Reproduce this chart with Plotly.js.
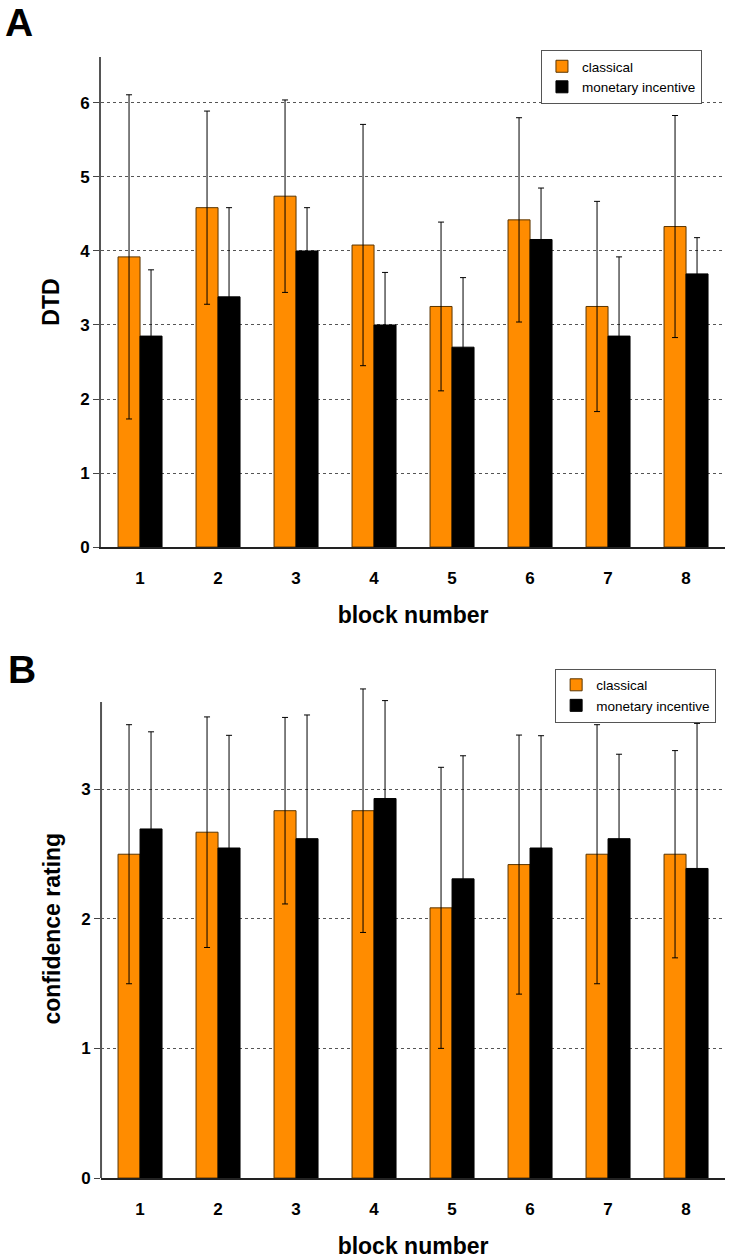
<!DOCTYPE html>
<html>
<head>
<meta charset="utf-8">
<script src="https://cdn.plot.ly/plotly-3.0.1.min.js"></script>
<style>
  html, body { margin: 0; padding: 0; background: #fff; }
  #chart { width: 730px; height: 1259px; }
</style>
</head>
<body>
<div id="chart"></div>
<script>
// ---- data ----
const blocks = ['1', '2', '3', '4', '5', '6', '7', '8'];

// Panel A: DTD
const dtdClassical      = [3.92, 4.585, 4.74, 4.08, 3.25, 4.42, 3.25, 4.33];
const dtdClassicalErr   = [2.19, 1.305, 1.30, 1.63, 1.14, 1.38, 1.42, 1.50];
const dtdMonetary       = [2.85, 3.38, 4.00, 3.00, 2.70, 4.155, 2.85, 3.69];
const dtdMonetaryErr    = [0.895, 1.205, 0.585, 0.71, 0.94, 0.695, 1.07, 0.49];

// Panel B: confidence rating
const confClassical     = [2.50, 2.67, 2.836, 2.836, 2.086, 2.42, 2.50, 2.50];
const confClassicalErr  = [1.00, 0.89, 0.72, 0.94, 1.085, 1.00, 1.00, 0.80];
const confMonetary      = [2.695, 2.548, 2.62, 2.93, 2.31, 2.548, 2.62, 2.39];
const confMonetaryErr   = [0.75, 0.87, 0.955, 0.756, 0.95, 0.867, 0.652, 1.12];

const seriesNames = ['classical', 'monetary incentive'];

// axis extents as drawn in the reference
const dtdAxisTop = 6.62;
const confAxisTop = 3.676;

// ---- styling ----
const FONT = 'Arial, "Liberation Sans", Helvetica, sans-serif';
const ORANGE = '#FF8C00';
const BLACK = '#000000';

function barTrace(name, y, err, color, lineColor, xa, ya, legend) {
  return {
    type: 'bar', name: name, x: blocks, y: y,
    xaxis: xa, yaxis: ya, legend: legend,
    cliponaxis: false,
    marker: { color: color, line: { color: lineColor, width: 1 } },
    error_y: { type: 'data', array: err, visible: true, color: '#000', thickness: 1, width: 3 },
    hoverinfo: 'x+y'
  };
}

const data = [
  barTrace(seriesNames[0], dtdClassical, dtdClassicalErr, ORANGE, '#5a3500', 'x', 'y', 'legend'),
  barTrace(seriesNames[1], dtdMonetary, dtdMonetaryErr, BLACK, '#000', 'x', 'y', 'legend'),
  barTrace(seriesNames[0], confClassical, confClassicalErr, ORANGE, '#5a3500', 'x2', 'y2', 'legend2'),
  barTrace(seriesNames[1], confMonetary, confMonetaryErr, BLACK, '#000', 'x2', 'y2', 'legend2')
];

function xAxis(anchor) {
  return {
    anchor: anchor, domain: [0.1384, 0.9932],
    type: 'category', range: [-0.5, 7.5],
    showline: true, linecolor: '#222', linewidth: 2,
    ticks: '', ticklabelstandoff: 15,
    showgrid: false, zeroline: false,
    tickfont: { family: FONT, size: 17, color: '#000', weight: 'bold' },
    title: { text: 'block number', standoff: 19,
             font: { family: FONT, size: 23, color: '#000', weight: 'bold' } },
    automargin: false, fixedrange: true
  };
}
function yAxis(anchor, domain, range, title, showline) {
  return {
    anchor: anchor, domain: domain, range: range, dtick: 1, tick0: 0,
    showline: showline, linecolor: '#555', linewidth: 2,
    ticks: 'outside', ticklen: 6, tickcolor: '#444', tickwidth: 1,
    showgrid: true, gridcolor: '#555', griddash: 'dot', gridwidth: 1,
    zeroline: false,
    tickfont: { family: FONT, size: 17, color: '#000', weight: 'bold' },
    title: { text: title, standoff: 14,
             font: { family: FONT, size: 23, color: '#000', weight: 'bold' } },
    automargin: false, fixedrange: true
  };
}

const legendBase = {
  bgcolor: '#fff', bordercolor: '#555', borderwidth: 1,
  font: { family: FONT, size: 13.5, color: '#000' },
  xanchor: 'right', yanchor: 'top', traceorder: 'normal',
  itemwidth: 30, tracegroupgap: 0
};

const layout = {
  width: 730, height: 1259,
  margin: { l: 0, r: 0, t: 0, b: 0 },
  paper_bgcolor: '#fff', plot_bgcolor: '#fff',
  font: { family: FONT, color: '#000' },
  barmode: 'group', bargap: 0.436, bargroupgap: 0,
  showlegend: true,
  xaxis: xAxis('y'),
  yaxis: yAxis('x', [0.5655, 0.9547], [0, dtdAxisTop], 'DTD', true),
  xaxis2: xAxis('y2'),
  // range extended upward so the tall error bars are not clipped; the visible
  // axis line is drawn as a shape up to the reference's axis top
  yaxis2: yAxis('x2', [0.0643, 0.4604], [0, 3.85], 'confidence rating', false),
  legend: Object.assign({}, legendBase, { x: 0.9616, y: 0.9603 }),
  legend2: Object.assign({}, legendBase, { x: 0.981, y: 0.4690 }),
  shapes: [
    { type: 'line', xref: 'x2 domain', yref: 'y2', x0: 0, x1: 0, y0: 0, y1: confAxisTop,
      line: { color: '#555', width: 2 }, layer: 'above' }
  ],
  annotations: [
    { text: 'A', xref: 'paper', yref: 'paper', x: 0.026, y: 0.9825,
      xanchor: 'center', yanchor: 'middle', showarrow: false,
      font: { family: FONT, size: 39, color: '#000', weight: 'bold' } },
    { text: 'B', xref: 'paper', yref: 'paper', x: 0.030, y: 0.4686,
      xanchor: 'center', yanchor: 'middle', showarrow: false,
      font: { family: FONT, size: 39, color: '#000', weight: 'bold' } }
  ]
};

Plotly.newPlot('chart', data, layout, { displayModeBar: false, staticPlot: true });
</script>
</body>
</html>
